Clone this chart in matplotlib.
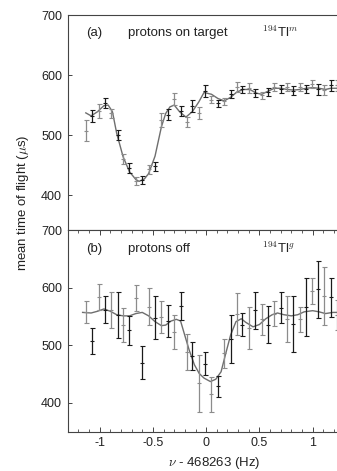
import matplotlib
matplotlib.use("Agg")
import matplotlib.pyplot as plt
from matplotlib.ticker import MultipleLocator

plt.rcParams["font.family"] = ["Liberation Sans", "DejaVu Sans"]
plt.rcParams["mathtext.fontset"] = "cm"

# frequency offset of the measured points (Hz)
freq = [-1.13, -1.07, -1.01, -0.95, -0.89, -0.83, -0.78, -0.72, -0.66, -0.60,
        -0.54, -0.48, -0.42, -0.36, -0.30, -0.24, -0.18, -0.13, -0.07, -0.01,
        0.05, 0.11, 0.17, 0.23, 0.29, 0.34, 0.40, 0.46, 0.52, 0.58,
        0.64, 0.70, 0.76, 0.82, 0.88, 0.94, 0.99, 1.05, 1.11, 1.17, 1.23]

# (a) protons on target, 194Tl m
tof_a = [507, 532, 540, 553, 536, 500, 460, 445, 423, 425,
         443, 448, 525, 534, 560, 540, 522, 549, 537, 574,
         559, 553, 556, 568, 580, 576, 578, 570, 566, 572,
         580, 577, 580, 574, 580, 577, 585, 576, 575, 583, 583]
err_a = [17.5, 10, 12, 8, 7, 8, 8, 8, 6.5, 6.5,
         7.5, 8, 11, 9, 10, 8, 8, 10, 10, 10,
         6, 6, 6, 7, 8, 6, 8, 7, 6.5, 6.5,
         7, 6.5, 7, 7, 7, 7, 7, 9, 8, 9, 9]

# (b) protons off, 194Tl g
tof_b = [558, 507, 583, 562, 561, 552, 535, 526, 582, 470,
         567, 548, 549, 542, 523, 568, 488, 481, 434, 468,
         415, 429, 486, 511, 554, 536, 530, 561, 545, 536,
         555, 565, 546, 537, 545, 566, 594, 597, 585, 583, 552]
err_b = [19.5, 23, 22.5, 23, 31, 40, 29, 25, 22, 28,
         32, 37, 27, 27, 30, 24, 31, 24, 49, 20,
         30, 18, 25, 41, 36, 20, 36, 32, 27, 32,
         22, 27, 40, 49, 22, 50, 23, 50, 50, 34, 26]

# fitted line shapes
fit_a_x = [-1.13, -1.08, -1.02, -0.96, -0.92, -0.88, -0.84, -0.78, -0.72, -0.66,
           -0.63, -0.58, -0.54, -0.48, -0.42, -0.38, -0.34, -0.30, -0.25, -0.19,
           -0.13, -0.07, -0.02, 0.05, 0.11, 0.17, 0.23, 0.29, 0.35, 0.41,
           0.47, 0.52, 0.58, 0.64, 0.70, 0.76, 0.82, 0.88, 0.94, 1.00,
           1.06, 1.12, 1.17, 1.23, 1.27]
fit_a_y = [537, 532, 539, 549, 550, 539, 503, 464, 439, 426,
           423, 427, 436, 465, 514, 536, 547, 550, 539, 530,
           539, 555, 571, 568, 561, 557, 563, 572, 576, 576,
           570, 568, 573, 578, 578, 576, 575, 576, 578, 579,
           578, 576, 578, 578, 578]

fit_b_x = [-1.16, -1.08, -1.02, -0.96, -0.90, -0.84, -0.78, -0.72, -0.66, -0.60,
           -0.54, -0.48, -0.42, -0.38, -0.33, -0.28, -0.24, -0.21, -0.16, -0.11,
           -0.065, -0.02, 0.04, 0.09, 0.14, 0.18, 0.23, 0.28, 0.33, 0.37,
           0.44, 0.50, 0.56, 0.62, 0.67, 0.73, 0.80, 0.86, 0.92, 1.00,
           1.06, 1.12, 1.19, 1.27]
fit_b_y = [557, 556, 559, 563, 559, 553, 551, 551, 555, 557,
           551, 541, 534, 535, 542, 545, 542, 523, 492, 466,
           451, 443, 437, 441, 454, 483, 518, 541, 546, 540,
           532, 536, 546, 553, 556, 553, 551, 553, 558, 560,
           558, 555, 557, 557]

W, H, DPI = 337, 471, 100
fig = plt.figure(figsize=(W / DPI, H / DPI), dpi=DPI)

left = 67.7 / W
width = (341 - 67.7) / W
ax_a = fig.add_axes([left, 1 - 230 / H, width, (230 - 15) / H])
ax_b = fig.add_axes([left, 1 - 431.7 / H, width, (431.7 - 230) / H])

dark = "#1a1a1a"
light = "#8c8c8c"
spine_col = "#444444"
text_col = "#222222"


def draw_points(ax, y, e):
    for k, col in ((0, light), (1, dark)):
        xs = freq[k::2]
        ys = y[k::2]
        es = e[k::2]
        ax.errorbar(xs, ys, yerr=es, fmt="_", ms=3, mew=0.8, color=col,
                    ecolor=col, elinewidth=0.9, capsize=1.8, capthick=0.9,
                    zorder=3)


draw_points(ax_a, tof_a, err_a)
ax_a.plot(fit_a_x, fit_a_y, color="#6e6e6e", lw=1.0, zorder=2)
draw_points(ax_b, tof_b, err_b)
ax_b.plot(fit_b_x, fit_b_y, color="#6e6e6e", lw=1.0, zorder=2)

ax_a.set_ylim(342, 700)
ax_b.set_ylim(350, 700)

for ax in (ax_a, ax_b):
    ax.set_xlim(-1.30, 1.266)
    ax.xaxis.set_major_locator(MultipleLocator(0.5))
    ax.xaxis.set_minor_locator(MultipleLocator(0.1))
    ax.set_yticks([400, 500, 600, 700])
    ax.tick_params(axis="y", direction="in", length=3, width=0.7,
                   colors=spine_col, labelcolor=text_col, labelsize=9, pad=4)
    for s in ax.spines.values():
        s.set_color(spine_col)
        s.set_linewidth(0.8)
    ax.spines["right"].set_visible(False)

ax_a.tick_params(axis="x", which="both", bottom=False, labelbottom=False)
ax_b.tick_params(axis="x", which="major", direction="in", length=3.5,
                 width=0.7, top=True, colors=spine_col, labelcolor=text_col,
                 labelsize=9, pad=4)
ax_b.tick_params(axis="x", which="minor", direction="in", length=2,
                 width=0.6, top=True, colors=spine_col)
ax_b.set_xticks([-1, -0.5, 0, 0.5, 1])
ax_b.set_xticklabels(["-1", "-0.5", "0", "0.5", "1"])


def ftext(px, py, s, **kw):
    # place text by pixel position measured from the top-left corner
    fig.text(px / W, 1 - py / H, s, fontsize=9.5, color=text_col,
             va="center", **kw)


ftext(86, 33, "(a)")
ftext(128, 33, "protons on target")
ftext(262, 32, r"$^{194}$Tl$^{m}$")
ftext(86, 249, "(b)")
ftext(128, 249, "protons off")
ftext(262, 248, r"$^{194}$Tl$^{g}$")

ftext(23, 203, r"mean time of flight ($\mu$s)", rotation=90, ha="center")
ftext(214, 463, r"$\nu$ - 468263 (Hz)", ha="center")

fig.savefig("out.png", dpi=DPI)
